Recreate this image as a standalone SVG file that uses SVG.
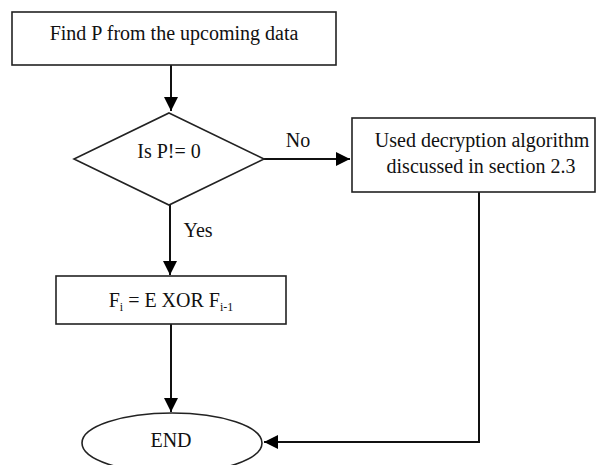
<svg xmlns="http://www.w3.org/2000/svg" width="597" height="465" viewBox="0 0 597 465">
<style>
.shape{fill:#fff;stroke:#222;stroke-width:1.6}
.conn{fill:none;stroke:#111;stroke-width:2}
text{font-family:"Liberation Serif","Times New Roman",serif;font-size:20px;fill:#111}
.c{text-anchor:middle}
.sub{font-size:12px}
</style>
<defs>
<marker id="arr" viewBox="0 0 10 10" refX="10" refY="5" markerWidth="7" markerHeight="7" markerUnits="strokeWidth" orient="auto">
<path d="M0,0 L10,5 L0,10 Z" fill="#000"/>
</marker>
</defs>
<rect width="597" height="465" fill="#fff"/>
<g id="connectors">
<line class="conn" x1="171" y1="65" x2="171" y2="111" marker-end="url(#arr)"/>
<line class="conn" x1="264" y1="159" x2="350" y2="159" marker-end="url(#arr)"/>
<line class="conn" x1="170" y1="205" x2="170" y2="275" marker-end="url(#arr)"/>
<line class="conn" x1="171" y1="324" x2="171" y2="412" marker-end="url(#arr)"/>
<polyline class="conn" points="479,192 479,442 264,442" marker-end="url(#arr)"/>
<text x="298" y="147" class="c">No</text>
<text x="198" y="237" class="c">Yes</text>
</g>
<g id="node-find">
<rect class="shape" x="12" y="12" width="324" height="53"/>
<text x="174" y="40" class="c">Find P from the upcoming data</text>
</g>
<g id="node-decision">
<polygon class="shape" points="169,113 264,159 169,205 74,159"/>
<text x="169" y="158" class="c">Is P!= 0</text>
</g>
<g id="node-decrypt">
<rect class="shape" x="352" y="118" width="243" height="74"/>
<text x="482" y="147" class="c">Used decryption algorithm</text>
<text x="481" y="173" class="c">discussed in section 2.3</text>
</g>
<g id="node-xor">
<rect class="shape" x="56" y="276" width="230" height="48"/>
<text x="171" y="307" class="c">F<tspan class="sub" dy="4">i</tspan><tspan dy="-4"> = E XOR F</tspan><tspan class="sub" dy="4">i-1</tspan></text>
</g>
<g id="node-end">
<ellipse class="shape" cx="172" cy="443" rx="90" ry="30"/>
<text x="171" y="447" class="c">END</text>
</g>
</svg>
